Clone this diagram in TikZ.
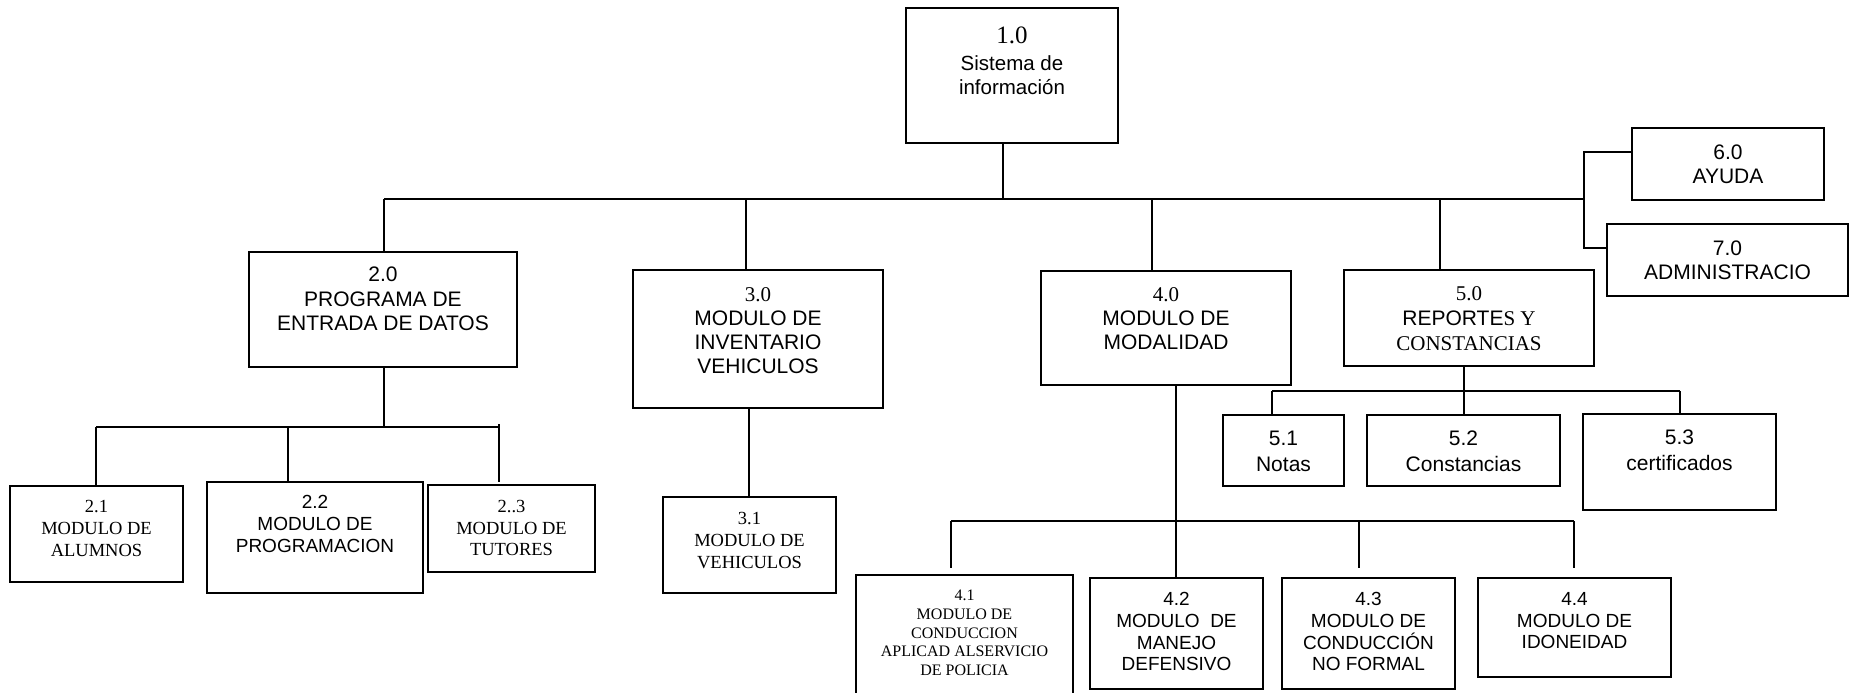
\documentclass[tikz,border=0pt]{standalone}
\usepackage{fontspec}
\setmainfont{Liberation Serif}
\setsansfont{Liberation Sans}
\newcommand{\fs}[2]{\fontsize{#1}{#2}\selectfont}
\begin{document}
\begin{tikzpicture}[x=1pt,y=-1pt,
  box/.style={draw, line width=2.2pt, rectangle, inner sep=0pt},
  conn/.style={line width=1.8pt},
  txt/.style={anchor=north, align=center, inner sep=0pt, font=\sffamily}]
\useasboundingbox (0,0) rectangle (1855,693);
\clip (0,0) rectangle (1855,693);
% boxes
\node[box, minimum width=212pt, minimum height=135pt] (b10) at (1012,75.5) {};
\node[box, minimum width=268pt, minimum height=115pt] (b20) at (383,309.5) {};
\node[box, minimum width=173pt, minimum height=96pt] (b21) at (96.5,534) {};
\node[box, minimum width=216pt, minimum height=111pt] (b22) at (315,537.5) {};
\node[box, minimum width=167pt, minimum height=87pt] (b23) at (511.5,528.5) {};
\node[box, minimum width=250pt, minimum height=138pt] (b30) at (758,339) {};
\node[box, minimum width=173pt, minimum height=96pt] (b31) at (749.5,545) {};
\node[box, minimum width=250pt, minimum height=114pt] (b40) at (1166,328) {};
\node[box, minimum width=217pt, minimum height=130pt] (b41) at (964.5,640) {};
\node[box, minimum width=173pt, minimum height=111pt] (b42) at (1176.5,633.5) {};
\node[box, minimum width=173pt, minimum height=111pt] (b43) at (1368.5,633.5) {};
\node[box, minimum width=193pt, minimum height=99pt] (b44) at (1574.5,627.5) {};
\node[box, minimum width=250pt, minimum height=96pt] (b50) at (1469,318) {};
\node[box, minimum width=121pt, minimum height=71pt] (b51) at (1283.5,450.5) {};
\node[box, minimum width=193pt, minimum height=71pt] (b52) at (1463.5,450.5) {};
\node[box, minimum width=193pt, minimum height=96pt] (b53) at (1679.5,462) {};
\node[box, minimum width=192pt, minimum height=72pt] (b60) at (1728,164) {};
\node[box, minimum width=241pt, minimum height=72pt] (b70) at (1727.5,260) {};
% texts
\node[txt, font=\sffamily\fs{20.5}{23.5}] (t10) at (1012,27) {{\rmfamily\fs{25}{27}1.0}\\[3.5pt]Sistema de\\información};
\node[txt, font=\sffamily\fs{21}{24.5}] (t20) at (383,267) {2.0\\PROGRAMA DE\\ENTRADA DE DATOS};
\node[txt, font=\rmfamily\fs{18.5}{22}] (t21) at (96.5,500.5) {2.1\\MODULO DE\\ALUMNOS};
\node[txt, font=\sffamily\fs{19}{22}] (t22) at (315,495.3) {2.2\\MODULO DE\\PROGRAMACION};
\node[txt, font=\rmfamily\fs{18.5}{21.5}] (t23) at (511.5,500.5) {2..3\\MODULO DE\\TUTORES};
\node[txt, font=\sffamily\fs{21}{24}] (t30) at (758,287.8) {{\rmfamily 3.0}\\MODULO DE\\INVENTARIO\\VEHICULOS};
\node[txt, font=\rmfamily\fs{18.5}{22}] (t31) at (749.5,512.5) {3.1\\MODULO DE\\VEHICULOS};
\node[txt, font=\sffamily\fs{21}{24}] (t40) at (1166,287.8) {{\rmfamily 4.0}\\MODULO DE\\MODALIDAD};
\node[txt, font=\rmfamily\fs{16}{18.6}] (t41) at (964.5,590.2) {4.1\\MODULO DE\\CONDUCCION\\APLICAD ALSERVICIO\\DE POLICIA};
\node[txt, font=\sffamily\fs{19}{21.7}] (t42) at (1176.5,592.3) {4.2\\MODULO\ \ DE\\MANEJO\\DEFENSIVO};
\node[txt, font=\sffamily\fs{19}{21.7}] (t43) at (1368.5,592.3) {4.3\\MODULO DE\\CONDUCCIÓN\\NO FORMAL};
\node[txt, font=\sffamily\fs{19}{21.7}] (t44) at (1574.5,592.3) {4.4\\MODULO DE\\IDONEIDAD};
\node[txt, font=\rmfamily\fs{21}{25}] (t50) at (1469,286.8) {5.0\\{\sffamily REPORTE}S Y\\CONSTANCIAS};
\node[txt, font=\sffamily\fs{21}{25.5}] (t51) at (1283.5,430.9) {5.1\\Notas};
\node[txt, font=\sffamily\fs{21}{25.5}] (t52) at (1463.5,430.9) {5.2\\Constancias};
\node[txt, font=\sffamily\fs{21}{25.5}] (t53) at (1679.5,430) {5.3\\certificados};
\node[txt, font=\sffamily\fs{21}{24}] (t60) at (1728,145) {6.0\\AYUDA};
\node[txt, font=\sffamily\fs{21}{24}] (t70) at (1727.5,241) {7.0\\ADMINISTRACIO};
% main level connectors
\coordinate (mt) at (1003,199);
\coordinate (m1) at (384,199);
\coordinate (m2) at (746,199);
\coordinate (m3) at (1152,199);
\coordinate (m4) at (1440,199);
\coordinate (m5) at (1584,199);
\coordinate (r6) at (1584,152);
\coordinate (r7) at (1584,248);
\draw[conn] (b10.south -| mt) -- (mt);
\draw[conn] (m1) -- (m5);
\draw[conn] (m1) -- (m1 |- b20.north);
\draw[conn] (m2) -- (m2 |- b30.north);
\draw[conn] (m3) -- (m3 |- b40.north);
\draw[conn] (m4) -- (m4 |- b50.north);
\draw[conn] (b60.west |- r6) -- (r6) -- (r7) -- (b70.west |- r7);
% 2.0 children
\coordinate (s2) at (384,427);
\coordinate (s2a) at (96,427);
\coordinate (s2b) at (288,427);
\coordinate (s2c) at (499,427);
\coordinate (s2ct) at (499,424);
\coordinate (s2ce) at (499,482);
\draw[conn] (b20.south -| s2) -- (s2);
\draw[conn] (s2a) -- (s2c);
\draw[conn] (s2a) -- (s2a |- b21.north);
\draw[conn] (s2b) -- (s2b |- b22.north);
\draw[conn] (s2ct) -- (s2ce);
% 3.0 child
\coordinate (s3) at (749,400);
\draw[conn] (b30.south -| s3) -- (b31.north -| s3);
% 4.0 children
\coordinate (s4) at (1176,521);
\coordinate (s4a) at (951,521);
\coordinate (s4c) at (1359,521);
\coordinate (s4d) at (1574,521);
\coordinate (s4ae) at (951,568);
\coordinate (s4ce) at (1359,568);
\coordinate (s4de) at (1574,568);
\draw[conn] (b40.south -| s4) -- (b42.north -| s4);
\draw[conn] (s4a) -- (s4d);
\draw[conn] (s4a) -- (s4ae);
\draw[conn] (s4c) -- (s4ce);
\draw[conn] (s4d) -- (s4de);
% 5.0 children
\coordinate (s5) at (1464,391);
\coordinate (s5a) at (1272,391);
\coordinate (s5c) at (1680,391);
\draw[conn] (b50.south -| s5) -- (b52.north -| s5);
\draw[conn] (s5a) -- (s5c);
\draw[conn] (s5a) -- (s5a |- b51.north);
\draw[conn] (s5c) -- (s5c |- b53.north);
\end{tikzpicture}
\end{document}
